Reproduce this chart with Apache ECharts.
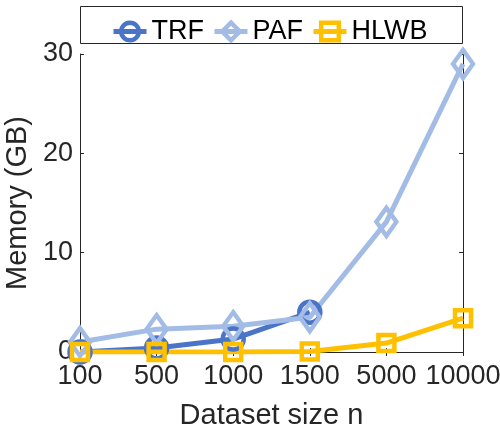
<!DOCTYPE html>
<html>
<head>
<meta charset="utf-8">
<script src="https://cdn.jsdelivr.net/npm/echarts@6/dist/echarts.min.js"></script>
<style>
  html, body { margin: 0; padding: 0; background: #fff; }
  #chart { width: 500px; height: 431px; }
</style>
</head>
<body>
<div id="chart"></div>
<script>
// --- data ---
const sizes = ['100', '500', '1000', '1500', '5000', '10000'];
const trf = [0.0, 0.4, 1.3, 4.0, '-', '-'];
const paf = [1.0, 2.3, 2.6, 3.5, 13.1, 29.0];
const hlwb = [0.0, 0.0, 0.0, 0.05, 0.9, 3.4];
const yTicks = [0, 10, 20, 30];

const font = 'Liberation Sans, Arial, sans-serif';
const axisColor = '#262626';

const mkSeries = (name, data, color, symbol, size) => ({
    name: name,
    type: 'line',
    data: data,
    symbol: symbol,
    symbolSize: size,
    lineStyle: { color: color, width: 5 },
    itemStyle: { color: 'rgba(255,255,255,0)', borderColor: color, borderWidth: 4.5 },
    emphasis: { disabled: true },
    animation: false
});

const chart = echarts.init(document.getElementById('chart'));
chart.setOption({
    backgroundColor: '#fff',
    textStyle: { fontFamily: font },
    graphic: [{
        type: 'rect',
        shape: { x: 80.5, y: 6.5, width: 382, height: 37 },
        style: { fill: 'none', stroke: axisColor, lineWidth: 1 },
        z: 0
    }],
    legend: {
        top: 13,
        left: 106,
        itemWidth: 33,
        itemHeight: 22,
        itemGap: 8,
        lineStyle: { width: 5 },
        itemStyle: { borderWidth: 4.5 },
        textStyle: { fontSize: 27, color: '#000', fontFamily: font },
        data: ['TRF', 'PAF', 'HLWB']
    },
    grid: { left: 80, right: 37, top: 54, bottom: 79, outerBoundsMode: 'none', containLabel: false },
    xAxis: [{
        type: 'category',
        data: sizes,
        boundaryGap: false,
        name: 'Dataset size n',
        nameLocation: 'middle',
        nameGap: 49,
        nameTextStyle: { fontSize: 29, color: '#262626' },
        axisLine: { lineStyle: { color: axisColor, width: 1 } },
        axisTick: { inside: true, length: 4, alignWithLabel: true, lineStyle: { color: axisColor } },
        axisLabel: { fontSize: 27, color: '#262626', margin: 11, interval: 0, hideOverlap: false },
        splitLine: { show: false }
    }, {
        type: 'category',
        data: sizes,
        position: 'top',
        boundaryGap: false,
        axisLine: { lineStyle: { color: axisColor, width: 1 } },
        axisTick: { inside: true, length: 4, lineStyle: { color: axisColor } },
        axisLabel: { show: false }
    }],
    yAxis: [{
        type: 'value',
        min: yTicks[0],
        max: yTicks[yTicks.length - 1],
        interval: 10,
        name: 'Memory (GB)',
        nameLocation: 'middle',
        nameGap: 37,
        nameTextStyle: { fontSize: 29, color: '#262626' },
        axisLine: { show: true, lineStyle: { color: axisColor, width: 1 } },
        axisTick: { show: true, inside: true, length: 4, lineStyle: { color: axisColor } },
        axisLabel: { fontSize: 27, color: '#262626', margin: 7 },
        splitLine: { show: false }
    }, {
        type: 'value',
        position: 'right',
        min: yTicks[0],
        max: yTicks[yTicks.length - 1],
        interval: 10,
        axisLine: { show: true, lineStyle: { color: axisColor, width: 1 } },
        axisTick: { show: true, inside: true, length: 4, lineStyle: { color: axisColor } },
        axisLabel: { show: false },
        splitLine: { show: false }
    }],
    series: [
        mkSeries('TRF', trf, '#4A74C8', 'circle', 21),
        mkSeries('PAF', paf, '#A3BCE5', 'diamond', [20, 28]),
        mkSeries('HLWB', hlwb, '#FFC000', 'rect', 16)
    ]
});
</script>
</body>
</html>
